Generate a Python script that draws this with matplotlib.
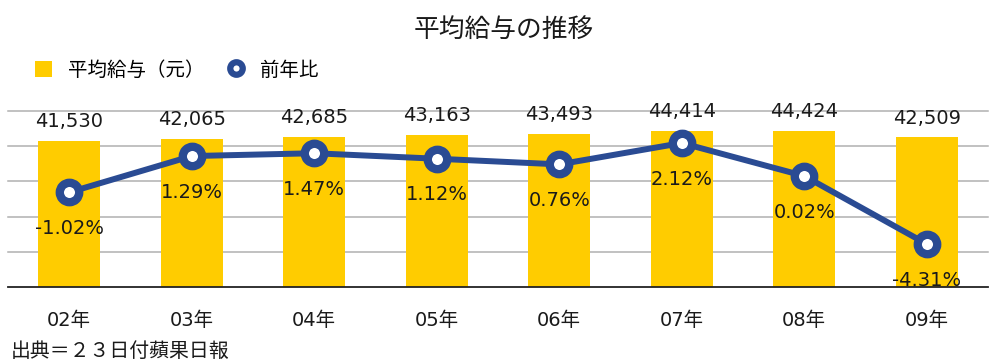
import matplotlib
matplotlib.use("Agg")
import matplotlib.pyplot as plt
from matplotlib.lines import Line2D
from matplotlib.patches import Patch

plt.rcParams['font.family'] = ['Noto Sans CJK JP', 'DejaVu Sans']
num_font = ['DejaVu Sans', 'Noto Sans CJK JP']

years = ['02年', '03年', '04年', '05年', '06年', '07年', '08年', '09年']
salary = [41530, 42065, 42685, 43163, 43493, 44414, 44424, 42509]
growth = [-1.02, 1.29, 1.47, 1.12, 0.76, 2.12, 0.02, -4.31]
grid_levels = [10000, 20000, 30000, 40000, 50000]

bar_color = '#FFCC00'
line_color = '#2A4B93'
text_color = '#1a1a1a'

fig = plt.figure(figsize=(10.08, 3.63), dpi=100)
ax = fig.add_axes([8 / 1008, 1 - 287 / 363, 980 / 1008, 176 / 363])

x = list(range(len(years)))
for g in grid_levels:
    ax.axhline(g, color='#b0b0b0', linewidth=1.1, zorder=1, clip_on=False)
ax.bar(x, salary, width=0.51, color=bar_color, zorder=2)
ax.set_ylim(0, 50000)
ax.set_xlim(-0.5, len(years) - 0.5)
ax.set_yticks([])
ax.tick_params(axis='x', bottom=False, pad=14, labelcolor=text_color)
ax.set_xticks(x)
ax.set_xticklabels(years, family=num_font, fontsize=14)
for s in ['top', 'right', 'left']:
    ax.spines[s].set_visible(False)
ax.spines['bottom'].set_color('#222222')
ax.spines['bottom'].set_linewidth(1.3)
ax.spines['bottom'].set_zorder(5)

for xi, v in zip(x, salary):
    ax.annotate(f'{v:,}', (xi, v), xytext=(0, 7), textcoords='offset points',
                ha='center', va='bottom', fontsize=14, color=text_color,
                family=num_font)

ax2 = ax.twinx()
ax2.set_ylim(-7.05, 4.16)
ax2.plot(x, growth, color=line_color, linewidth=4.3, marker='o', markersize=14,
         markerfacecolor='white', markeredgecolor=line_color, markeredgewidth=6,
         zorder=4)
ax2.axis('off')
for xi, v in zip(x, growth):
    ax2.annotate(f'{v:.2f}%', (xi, v), xytext=(0, -26), textcoords='offset points',
                 ha='center', va='center', fontsize=14, color=text_color,
                 family=num_font)

fig.text(0.5, 1 - 30 / 363, '平均給与の推移', ha='center', va='center',
         fontsize=18.5, color=text_color)

handles = [
    Patch(facecolor=bar_color, edgecolor='none'),
    Line2D([], [], color=line_color, linestyle='none', marker='o', markersize=9,
           markerfacecolor='white', markeredgecolor=line_color, markeredgewidth=4.5),
]
fig.legend(handles, ['平均給与（元）', '前年比'], loc='center left',
           bbox_to_anchor=(17 / 1008, 1 - 70 / 363), ncol=2, frameon=False,
           fontsize=14, handlelength=0.9, handleheight=0.9, columnspacing=1.2,
           handletextpad=0.8)

fig.text(11 / 1008, 1 - 351 / 363, '出典＝２３日付蘋果日報', ha='left', va='center',
         fontsize=14.3, color=text_color)

fig.savefig('out.png', dpi=100, facecolor='white')
